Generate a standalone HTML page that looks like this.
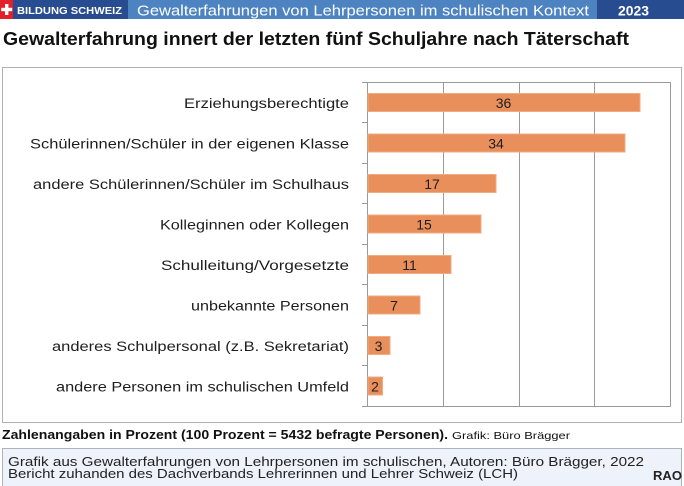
<!DOCTYPE html>
<html>
<head>
<meta charset="utf-8">
<style>
  html,body{margin:0;padding:0;background:#fff;}
  svg{display:block;}
  text{font-family:"Liberation Sans",Arial,sans-serif;}
</style>
</head>
<body>
<svg width="684" height="486" viewBox="0 0 684 486" xmlns="http://www.w3.org/2000/svg">
  <!-- Header -->
  <rect x="0" y="0" width="684" height="19" fill="#4c83c0"/>
  <rect x="0" y="0" width="128" height="19" fill="#284c90"/>
  <rect x="597" y="0" width="87" height="19" fill="#284c90"/>
  <rect x="0" y="0" width="13" height="19" fill="#e3202a"/>
  <rect x="5" y="4" width="3.4" height="11" fill="#fff"/>
  <rect x="1.2" y="7.8" width="11" height="3.4" fill="#fff"/>
  <text x="17" y="14" font-size="10" font-weight="bold" fill="#fff" textLength="105" lengthAdjust="spacingAndGlyphs">BILDUNG SCHWEIZ</text>
  <text x="137" y="15.5" font-size="14.5" fill="#fff" textLength="452" lengthAdjust="spacingAndGlyphs">Gewalterfahrungen von Lehrpersonen im schulischen Kontext</text>
  <text x="618" y="15.5" font-size="14" font-weight="bold" fill="#fff" textLength="31" lengthAdjust="spacingAndGlyphs">2023</text>

  <!-- Title -->
  <text x="3" y="45" font-size="18" font-weight="bold" fill="#111" textLength="626" lengthAdjust="spacingAndGlyphs">Gewalterfahrung innert der letzten fünf Schuljahre nach Täterschaft</text>

  <!-- Chart box -->
  <rect x="2.5" y="67.5" width="679" height="355" fill="#fff" stroke="#b0b0b0" stroke-width="1"/>

  <!-- Plot area grid -->
  <g stroke="#9a9a9a" stroke-width="1" fill="none">
    <line x1="443.5" y1="82" x2="443.5" y2="406"/>
    <line x1="519.5" y1="82" x2="519.5" y2="406"/>
    <line x1="594.5" y1="82" x2="594.5" y2="406"/>
    <line x1="670.5" y1="82" x2="670.5" y2="406.5"/>
    <line x1="362" y1="82.5" x2="670.5" y2="82.5"/>
    <line x1="362" y1="406.5" x2="670.5" y2="406.5"/>
    <line x1="367.5" y1="82" x2="367.5" y2="406.5"/>
    <line x1="362" y1="122.5" x2="367.5" y2="122.5"/>
    <line x1="362" y1="163.5" x2="367.5" y2="163.5"/>
    <line x1="362" y1="203.5" x2="367.5" y2="203.5"/>
    <line x1="362" y1="244.5" x2="367.5" y2="244.5"/>
    <line x1="362" y1="284.5" x2="367.5" y2="284.5"/>
    <line x1="362" y1="325.5" x2="367.5" y2="325.5"/>
    <line x1="362" y1="365.5" x2="367.5" y2="365.5"/>
  </g>

  <!-- Bars -->
  <g fill="#e98f5b" stroke="#f2ab80" stroke-width="1">
    <rect x="368" y="93.5" width="272" height="18"/>
    <rect x="368" y="134" width="257" height="18"/>
    <rect x="368" y="174.5" width="128" height="18"/>
    <rect x="368" y="215" width="113" height="18"/>
    <rect x="368" y="255.5" width="83" height="18"/>
    <rect x="368" y="296" width="52" height="18"/>
    <rect x="368" y="336.5" width="22" height="18"/>
    <rect x="368" y="377" width="14.5" height="18"/>
  </g>

  <!-- Value labels -->
  <g font-size="14" fill="#1e1e1e" text-anchor="middle">
    <text x="503.5" y="108">36</text>
    <text x="496" y="148.5">34</text>
    <text x="432" y="189">17</text>
    <text x="424" y="229.5">15</text>
    <text x="409.5" y="270">11</text>
    <text x="394" y="310.5">7</text>
    <text x="378.5" y="351">3</text>
    <text x="375" y="391.5">2</text>
  </g>

  <!-- Category labels -->
  <g font-size="13.5" fill="#1e1e1e">
    <text x="184" y="108" textLength="165" lengthAdjust="spacingAndGlyphs">Erziehungsberechtigte</text>
    <text x="30" y="148.5" textLength="319" lengthAdjust="spacingAndGlyphs">Schülerinnen/Schüler in der eigenen Klasse</text>
    <text x="33" y="189" textLength="316" lengthAdjust="spacingAndGlyphs">andere Schülerinnen/Schüler im Schulhaus</text>
    <text x="160" y="229.5" textLength="189" lengthAdjust="spacingAndGlyphs">Kolleginnen oder Kollegen</text>
    <text x="161" y="270" textLength="188" lengthAdjust="spacingAndGlyphs">Schulleitung/Vorgesetzte</text>
    <text x="191" y="310.5" textLength="158" lengthAdjust="spacingAndGlyphs">unbekannte Personen</text>
    <text x="52" y="351" textLength="297" lengthAdjust="spacingAndGlyphs">anderes Schulpersonal (z.B. Sekretariat)</text>
    <text x="56" y="391.5" textLength="293" lengthAdjust="spacingAndGlyphs">andere Personen im schulischen Umfeld</text>
  </g>

  <!-- Note -->
  <text x="2" y="439" font-size="13" font-weight="bold" fill="#111" textLength="446" lengthAdjust="spacingAndGlyphs">Zahlenangaben in Prozent (100 Prozent = 5432 befragte Personen).</text>
  <text x="452" y="439" font-size="10.5" fill="#111" textLength="118" lengthAdjust="spacingAndGlyphs">Grafik: Büro Brägger</text>

  <!-- Footer box -->
  <rect x="2.5" y="448.5" width="679" height="40" fill="#eef2fa" stroke="#aeb3bb" stroke-width="1"/>
  <text x="8" y="466" font-size="12.5" fill="#222" textLength="636" lengthAdjust="spacingAndGlyphs">Grafik aus  Gewalterfahrungen von Lehrpersonen im schulischen, Autoren: Büro Brägger, 2022</text>
  <text x="8" y="478" font-size="12.5" fill="#222" textLength="510" lengthAdjust="spacingAndGlyphs">Bericht zuhanden des Dachverbands Lehrerinnen und Lehrer Schweiz (LCH)</text>
  <text x="653" y="480" font-size="12.5" font-weight="bold" fill="#222" textLength="29" lengthAdjust="spacingAndGlyphs">RAO</text>
</svg>
</body>
</html>
